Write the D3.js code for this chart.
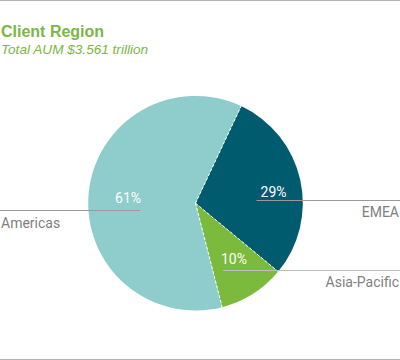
<!DOCTYPE html>
<html><head><meta charset="utf-8">
<script src="https://cdn.jsdelivr.net/npm/d3@7"></script>
<style>
html,body{margin:0;padding:0;background:#fff;}
svg{display:block;}
</style></head>
<body>
<script>
const categories = ["EMEA", "Asia-Pacific", "Americas"];
const values = [29, 10, 61];
const valueLabels = ["29%", "10%", "61%"];
const colors = ["#005b6f", "#7bba3c", "#8ecdcc"];
const title = "Client Region";
const subtitle = "Total AUM $3.561 trillion";

const W = 400, H = 360;
const cx = 195.5, cy = 203.2, R = 107.3;
const startDeg = 25.2;

const svg = d3.select("body").append("svg").attr("width", W).attr("height", H);

svg.append("line").attr("x1",0).attr("x2",W).attr("y1",0.5).attr("y2",0.5).attr("stroke","#b3b3b3").attr("stroke-width",1);
svg.append("line").attr("x1",0).attr("x2",W).attr("y1",359.5).attr("y2",359.5).attr("stroke","#b3b3b3").attr("stroke-width",1);

svg.append("text").attr("x",1).attr("y",36.5).text(title)
  .attr("font-family","Liberation Sans, Arial, sans-serif").attr("font-weight","bold")
  .attr("font-size",16).attr("fill","#7ab648");
svg.append("text").attr("x",1).attr("y",53.5).text(subtitle)
  .attr("font-family","Liberation Sans, Arial, sans-serif").attr("font-style","italic")
  .attr("font-size",13.6).attr("fill","#7ab648");

const data = categories.map((c,i)=>({cat:c, value:values[i], label:valueLabels[i], color:colors[i]}));
const start = startDeg*Math.PI/180;
const pie = d3.pie().value(d=>d.value).sort(null).startAngle(start).endAngle(start+2*Math.PI);
const arcs = pie(data);
const arc = d3.arc().innerRadius(0).outerRadius(R);

const g = svg.append("g").attr("transform",`translate(${cx},${cy})`);
g.selectAll("path.slice").data(arcs).join("path").attr("class","slice")
  .attr("d",arc).attr("fill",d=>d.data.color);

g.selectAll("line.sep").data(arcs).join("line").attr("class","sep")
  .attr("x1",0).attr("y1",0)
  .attr("x2",d=>R*Math.sin(d.startAngle)).attr("y2",d=>-R*Math.cos(d.startAngle))
  .attr("stroke","#fff").attr("stroke-width",1).attr("stroke-dasharray","3,2");

const layout = {
  "EMEA": {r:0.735, dAng:0.073, side:"right", lineOff:3.5, lineX:-17, extOff:16},
  "Asia-Pacific": {r:0.63, dAng:-0.04, side:"right", lineOff:6.5, lineX:-11, extOff:16.5},
  "Americas": {r:0.63, dAng:-0.014, side:"left", lineOff:7.5, lineX:12, extOff:17}
};
const font = "Roboto, Liberation Sans, Arial, sans-serif";
arcs.forEach(d=>{
  const L = layout[d.data.cat];
  const a = (d.startAngle+d.endAngle)/2 + L.dAng;
  const lx = cx + L.r*R*Math.sin(a);
  const ly = cy - L.r*R*Math.cos(a) + 5;
  svg.append("text").attr("x",lx).attr("y",ly).attr("text-anchor","middle")
    .attr("font-family",font).attr("font-size",14)
    .attr("fill","#fff").text(d.data.label);
  const yL = Math.round(ly + L.lineOff) + 0.5;
  let x1, x2;
  if (L.side==="left") { x1 = 0; x2 = lx + L.lineX; }
  else { x1 = lx + L.lineX; x2 = W; }
  svg.append("line").attr("x1",x1).attr("x2",x2).attr("y1",yL).attr("y2",yL)
    .attr("stroke", d.data.cat==="Asia-Pacific" ? "#bdbdbd" : "#9a9a9a").attr("stroke-width",1);
  svg.append("text")
    .attr("x", L.side==="left" ? 1 : W-1)
    .attr("y", yL + L.extOff)
    .attr("text-anchor", L.side==="left" ? "start" : "end")
    .attr("font-family",font).attr("font-size",14).attr("fill","#7f7f7f")
    .text(d.data.cat);
});
</script>
</body></html>
